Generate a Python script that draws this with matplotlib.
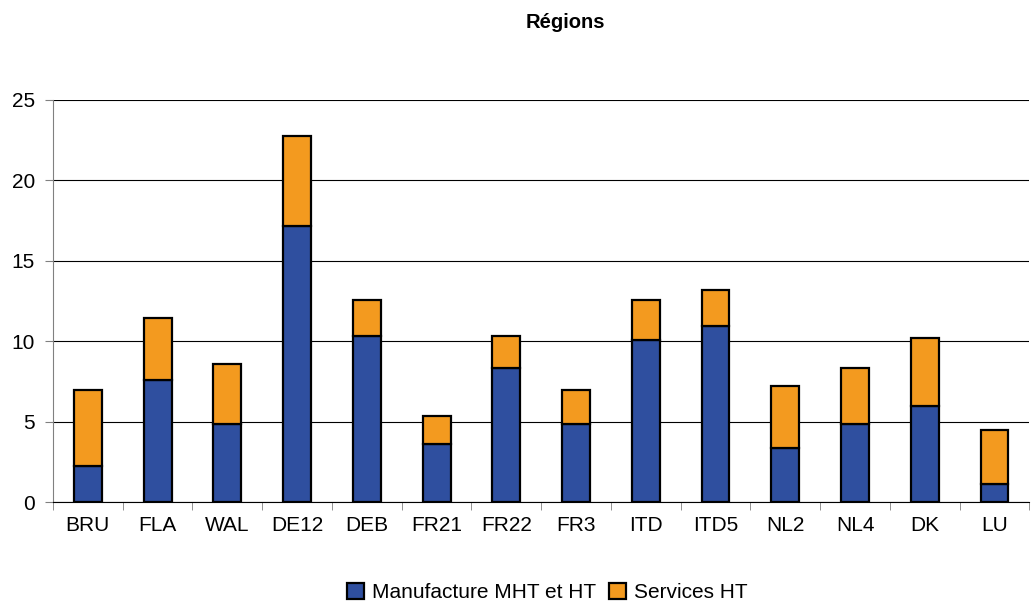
import matplotlib
matplotlib.use("Agg")
import matplotlib.pyplot as plt
import numpy as np

regions = ["BRU", "FLA", "WAL", "DE12", "DEB", "FR21", "FR22", "FR3",
           "ITD", "ITD5", "NL2", "NL4", "DK", "LU"]
manufacture = [2.24, 7.59, 4.85, 17.16, 10.32, 3.61, 8.33, 4.85,
               10.07, 10.95, 3.36, 4.85, 5.97, 1.12]
totals = [6.97, 11.44, 8.58, 22.76, 12.56, 5.35, 10.32, 6.97,
          12.56, 13.18, 7.21, 8.33, 10.20, 4.48]
services = [t - m for t, m in zip(totals, manufacture)]

plt.rcParams['font.family'] = ['Liberation Sans', 'DejaVu Sans']

fig = plt.figure(figsize=(10.31, 6.05), dpi=100)
ax = fig.add_axes([0.0514, 0.170, 0.947, 0.665])

x = np.arange(len(regions))
ax.bar(x, manufacture, width=0.4, color="#2F4F9F", edgecolor="black",
       linewidth=1.6, label="Manufacture MHT et HT", zorder=3)
ax.bar(x, services, width=0.4, bottom=manufacture, color="#F39A1F",
       edgecolor="black", linewidth=1.6, label="Services HT", zorder=3)

ax.set_ylim(0, 25)
ax.set_yticks(range(0, 26, 5))
ax.set_xlim(-0.5, len(regions) - 0.5)
ax.set_xticks(x)
ax.set_xticklabels(regions)
ax.set_xticks(np.arange(-0.5, len(regions), 1), minor=True)
ax.tick_params(axis='x', which='major', length=0, pad=10, labelsize=15)
ax.tick_params(axis='x', which='minor', length=6, color='#808080')
ax.tick_params(axis='y', length=6, color='#808080', labelsize=15, pad=7)

ax.yaxis.grid(True, color='black', linewidth=0.8, zorder=0)
for s in ['top', 'right']:
    ax.spines[s].set_visible(False)
ax.spines['left'].set_color('#808080')
ax.spines['bottom'].set_color('black')

fig.text(0.548, 0.962, "Régions", ha='center', va='center',
         fontsize=14.5, fontweight='bold')

fig.legend(loc='lower center', bbox_to_anchor=(0.531, -0.026), ncol=2,
           frameon=False, fontsize=15, handlelength=0.8, handleheight=0.8,
           handletextpad=0.4, columnspacing=0.6)

fig.savefig("out.png", dpi=100)
